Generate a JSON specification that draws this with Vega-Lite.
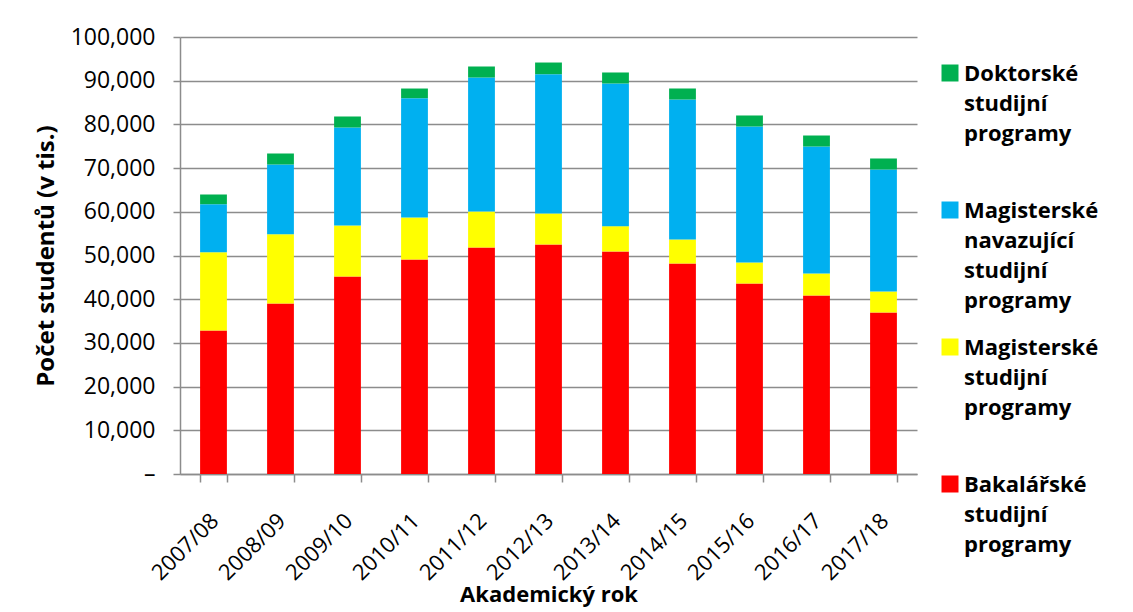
{
  "$schema": "https://vega.github.io/schema/vega-lite/v6.json",
  "autosize": {"type": "none"},
  "padding": {"left": 180, "top": 37, "right": 216, "bottom": 138},
  "width": 737,
  "height": 437,
  "background": "white",
  "config": {
    "view": {"stroke": null},
    "font": "Open Sans",
    "axis": {
      "labelFont": "Open Sans",
      "labelFontSize": 23,
      "labelColor": "#000000",
      "titleFont": "Open Sans",
      "titleFontSize": 22,
      "titleFontWeight": "bold",
      "titleColor": "#000000",
      "domainColor": "#8c8c8c",
      "domainWidth": 1.5,
      "tickColor": "#8c8c8c",
      "tickWidth": 1.5,
      "gridColor": "#8c8c8c",
      "gridWidth": 1.3
    }
  },
  "data": {
    "values": [
      {"rok": "2007/08", "typ": "Bakalářské studijní programy", "pocet": 32840},
      {"rok": "2007/08", "typ": "Magisterské studijní programy", "pocet": 17920},
      {"rok": "2007/08", "typ": "Magisterské navazující studijní programy", "pocet": 10980},
      {"rok": "2007/08", "typ": "Doktorské studijní programy", "pocet": 2220},
      {"rok": "2008/09", "typ": "Bakalářské studijní programy", "pocet": 39020},
      {"rok": "2008/09", "typ": "Magisterské studijní programy", "pocet": 15860},
      {"rok": "2008/09", "typ": "Magisterské navazující studijní programy", "pocet": 15940},
      {"rok": "2008/09", "typ": "Doktorské studijní programy", "pocet": 2520},
      {"rok": "2009/10", "typ": "Bakalářské studijní programy", "pocet": 45200},
      {"rok": "2009/10", "typ": "Magisterské studijní programy", "pocet": 11660},
      {"rok": "2009/10", "typ": "Magisterské navazující studijní programy", "pocet": 22430},
      {"rok": "2009/10", "typ": "Doktorské studijní programy", "pocet": 2520},
      {"rok": "2010/11", "typ": "Bakalářské studijní programy", "pocet": 49080},
      {"rok": "2010/11", "typ": "Magisterské studijní programy", "pocet": 9620},
      {"rok": "2010/11", "typ": "Magisterské navazující studijní programy", "pocet": 27300},
      {"rok": "2010/11", "typ": "Doktorské studijní programy", "pocet": 2210},
      {"rok": "2011/12", "typ": "Bakalářské studijní programy", "pocet": 51830},
      {"rok": "2011/12", "typ": "Magisterské studijní programy", "pocet": 8240},
      {"rok": "2011/12", "typ": "Magisterské navazující studijní programy", "pocet": 30660},
      {"rok": "2011/12", "typ": "Doktorské studijní programy", "pocet": 2520},
      {"rok": "2012/13", "typ": "Bakalářské studijní programy", "pocet": 52520},
      {"rok": "2012/13", "typ": "Magisterské studijní programy", "pocet": 7090},
      {"rok": "2012/13", "typ": "Magisterské navazující studijní programy", "pocet": 31880},
      {"rok": "2012/13", "typ": "Doktorské studijní programy", "pocet": 2670},
      {"rok": "2013/14", "typ": "Bakalářské studijní programy", "pocet": 50920},
      {"rok": "2013/14", "typ": "Magisterské studijní programy", "pocet": 5790},
      {"rok": "2013/14", "typ": "Magisterské navazující studijní programy", "pocet": 32650},
      {"rok": "2013/14", "typ": "Doktorské studijní programy", "pocet": 2520},
      {"rok": "2014/15", "typ": "Bakalářské studijní programy", "pocet": 48170},
      {"rok": "2014/15", "typ": "Magisterské studijní programy", "pocet": 5490},
      {"rok": "2014/15", "typ": "Magisterské navazující studijní programy", "pocet": 32040},
      {"rok": "2014/15", "typ": "Doktorské studijní programy", "pocet": 2510},
      {"rok": "2015/16", "typ": "Bakalářské studijní programy", "pocet": 43590},
      {"rok": "2015/16", "typ": "Magisterské studijní programy", "pocet": 4810},
      {"rok": "2015/16", "typ": "Magisterské navazující studijní programy", "pocet": 31120},
      {"rok": "2015/16", "typ": "Doktorské studijní programy", "pocet": 2520},
      {"rok": "2016/17", "typ": "Bakalářské studijní programy", "pocet": 40850},
      {"rok": "2016/17", "typ": "Magisterské studijní programy", "pocet": 5030},
      {"rok": "2016/17", "typ": "Magisterské navazující studijní programy", "pocet": 29060},
      {"rok": "2016/17", "typ": "Doktorské studijní programy", "pocet": 2520},
      {"rok": "2017/18", "typ": "Bakalářské studijní programy", "pocet": 36960},
      {"rok": "2017/18", "typ": "Magisterské studijní programy", "pocet": 4800},
      {"rok": "2017/18", "typ": "Magisterské navazující studijní programy", "pocet": 27920},
      {"rok": "2017/18", "typ": "Doktorské studijní programy", "pocet": 2520}
    ]
  },
  "transform": [
    {"calculate": "indexof(['Bakalářské studijní programy','Magisterské studijní programy','Magisterské navazující studijní programy','Doktorské studijní programy'], datum.typ)", "as": "poradi"}
  ],
  "mark": {"type": "bar"},
  "encoding": {
    "x": {
      "field": "rok",
      "type": "nominal",
      "scale": {"paddingInner": 0.6, "paddingOuter": 0.3},
      "axis": {
        "title": "Akademický rok",
        "labelFontSize": 22,
        "labelAngle": -45,
        "labelAlign": "right",
        "labelBaseline": "middle",
        "labelPadding": 35,
        "labelOffset": 1,
        "tickBand": "extent",
        "tickSize": 8,
        "titlePadding": 1,
        "grid": false
      }
    },
    "y": {
      "field": "pocet",
      "type": "quantitative",
      "aggregate": "sum",
      "stack": "zero",
      "scale": {"domain": [0, 100000], "nice": false},
      "axis": {
        "title": "Počet studentů (v tis.)",
        "titleFontSize": 24,
        "values": [0, 10000, 20000, 30000, 40000, 50000, 60000, 70000, 80000, 90000, 100000],
        "labelExpr": "datum.value === 0 ? '–' : format(datum.value, ',')",
        "tickSize": 7,
        "labelPadding": 18,
        "titlePadding": 12,
        "grid": true
      }
    },
    "color": {
      "field": "typ",
      "type": "nominal",
      "scale": {
        "domain": ["Doktorské studijní programy", "Magisterské navazující studijní programy", "Magisterské studijní programy", "Bakalářské studijní programy"],
        "range": ["#00B050", "#00B0F0", "#FFFF00", "#FF0000"]
      },
      "legend": {
        "title": null,
        "orient": "right",
        "offset": -3,
        "padding": 25,
        "symbolType": "square",
        "symbolSize": 289,
        "symbolStrokeWidth": 0,
        "labelFont": "Open Sans",
        "labelFontSize": 22,
        "labelFontWeight": "bold",
        "labelColor": "#000000",
        "labelLimit": 400,
        "labelOffset": 3,
        "labelBaseline": "alphabetic",
        "labelExpr": "split(datum.label, ' ')",
        "gridAlign": "all",
        "rowPadding": 24,
        "encode": {
          "labels": {"update": {"dy": {"value": 8}, "lineHeight": {"value": 30}}}
        }
      }
    },
    "order": {"field": "poradi", "type": "quantitative", "sort": "ascending"}
  }
}
